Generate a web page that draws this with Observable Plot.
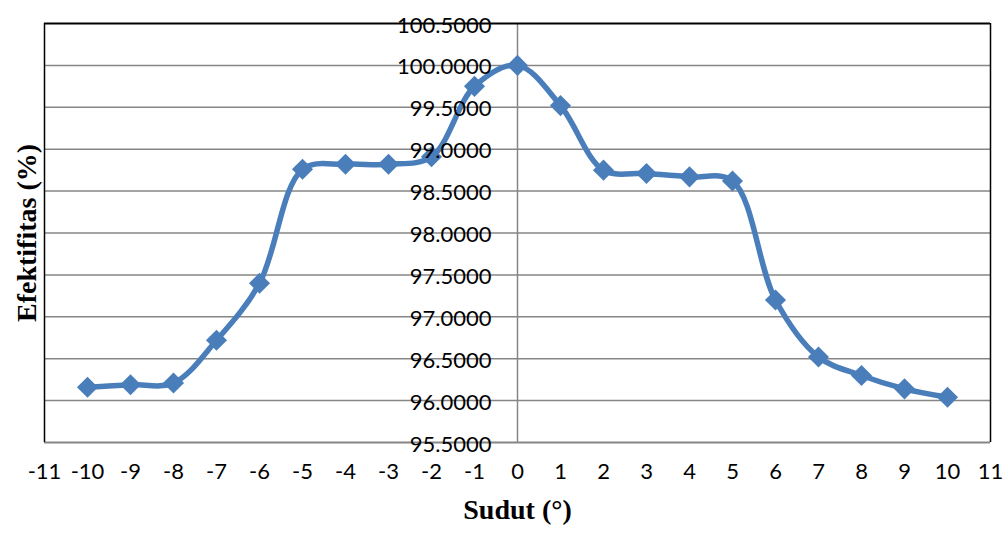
<!DOCTYPE html>
<html>
<head>
<meta charset="utf-8">
<script src="https://cdn.jsdelivr.net/npm/d3@7"></script>
<script src="https://cdn.jsdelivr.net/npm/@observablehq/plot@0.6"></script>
<style>
  html, body { margin: 0; padding: 0; background: #fff; }
  #chart svg { display: block; }
</style>
</head>
<body>
<div id="chart"></div>
<script>
const sudut = [-10, -9, -8, -7, -6, -5, -4, -3, -2, -1, 0, 1, 2, 3, 4, 5, 6, 7, 8, 9, 10];
const efektifitas = [96.16, 96.19, 96.21, 96.72, 97.40, 98.76, 98.82, 98.82, 98.91, 99.75, 100.00,
                     99.52, 98.75, 98.71, 98.67, 98.62, 97.20, 96.52, 96.30, 96.14, 96.04];
const xTicks = [-11, -10, -9, -8, -7, -6, -5, -4, -3, -2, -1, 0, 1, 2, 3, 4, 5, 6, 7, 8, 9, 10, 11];
const yTicks = [95.5, 96, 96.5, 97, 97.5, 98, 98.5, 99, 99.5, 100, 100.5];
const gridY = [96, 96.5, 97, 97.5, 98, 98.5, 99, 99.5, 100];
const xTitle = "Sudut (°)";
const yTitle = "Efektifitas (%)";

const data = sudut.map((x, i) => ({x, y: efektifitas[i]}));
const blue = "#4a7ebb";
const labelFont = "Lato, 'Open Sans', sans-serif";
const titleFont = "'Liberation Serif', 'Times New Roman', serif";

const chart = Plot.plot({
  width: 1007,
  height: 533,
  marginLeft: 44,
  marginRight: 17,
  marginTop: 23,
  marginBottom: 91,
  style: {fontFamily: labelFont, background: "#fff", overflow: "visible"},
  x: {domain: [-11, 11], axis: null},
  y: {domain: [95.5, 100.5], axis: null},
  marks: [
    Plot.ruleY(gridY, {stroke: "#868686", strokeWidth: 1.5}),
    Plot.ruleY([95.5], {stroke: "#868686", strokeWidth: 2}),
    Plot.ruleX([0], {stroke: "#868686", strokeWidth: 1.5}),
    Plot.ruleX([-11, 11], {stroke: "#000", strokeWidth: 1.5}),
    Plot.ruleY([100.5], {stroke: "#000", strokeWidth: 2}),
    Plot.line(data, {x: "x", y: "y", stroke: blue, strokeWidth: 5.5, curve: "catmull-rom"}),
    Plot.dot(data, {x: "x", y: "y", symbol: "diamond2", r: 9.5, fill: blue, stroke: "none"}),
    Plot.text(yTicks, {x: 0, y: d => d, text: d => d.toFixed(4), textAnchor: "end", dx: -26, dy: 2,
      fontSize: 22, fill: "#000", letterSpacing: 0.5}),
    Plot.text(xTicks, {x: d => d, text: d => String(d), frameAnchor: "bottom", dy: 36,
      fontSize: 22, fill: "#000"}),
    Plot.text([xTitle], {frameAnchor: "bottom", dy: 76, fontSize: 28, fontWeight: "bold",
      fontFamily: titleFont, fill: "#000"}),
    Plot.text([yTitle], {frameAnchor: "left", textAnchor: "middle", dx: -17, rotate: -90, fontSize: 28,
      fontWeight: "bold", fontFamily: titleFont, fill: "#000"})
  ]
});
document.getElementById("chart").appendChild(chart);
</script>
</body>
</html>
